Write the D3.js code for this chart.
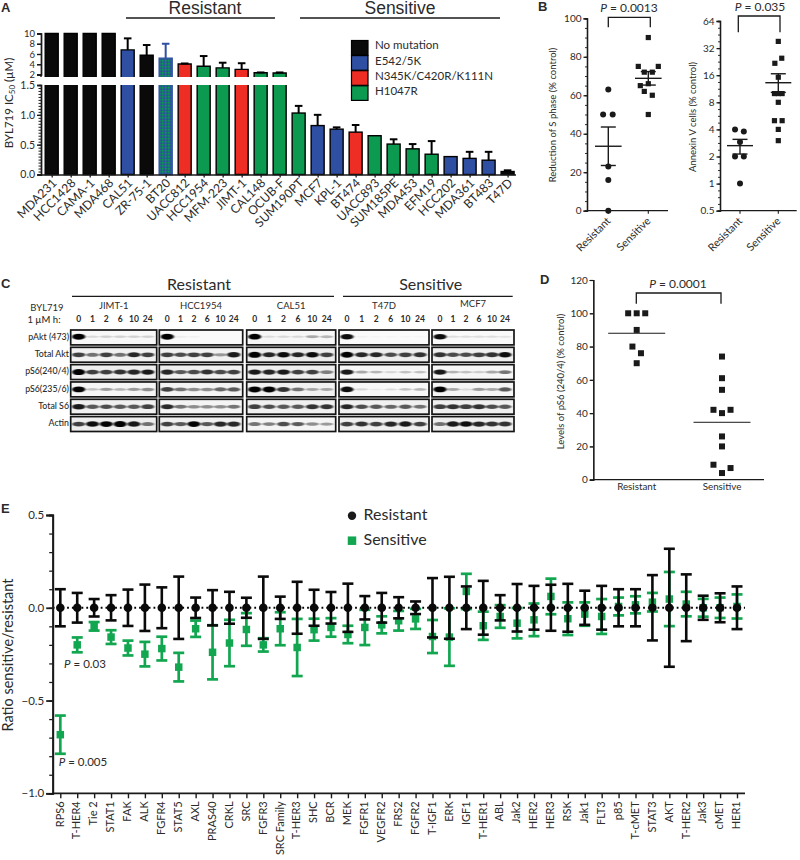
<!DOCTYPE html>
<html><head><meta charset="utf-8">
<script src="https://cdn.jsdelivr.net/npm/d3@7"></script>
<style>html,body{margin:0;background:#fff}svg{display:block}text{font-family:Lato,"Open Sans",sans-serif;fill:#2b2b2b}</style>
</head><body><svg id="c" width="800" height="860"></svg>
<script>
// ---------- Panel A data ----------
const aLines = ["MDA231","HCC1428","CAMA-1","MDA468","CAL51","ZR-75-1","BT20","UACC812","HCC1954","MFM-223","JIMT-1","CAL148","OCUB-F","SUM190PT","MCF7","KPL-1","BT474","UACC893","SUM185PE","MDA453","EFM19","HCC202","MDA361","BT483","T47D"];
const aValues = [10,10,10,10,6.8,5.75,5.2,4.05,3.6,3.3,3.0,2.35,2.3,1.03,0.82,0.76,0.71,0.65,0.51,0.43,0.34,0.30,0.27,0.24,0.05];
const aErrTop = [10,10,10,10,9.05,7.75,8.0,4.15,5.6,4.3,4.2,2.4,2.4,1.15,1.0,0.79,0.83,0.65,0.59,0.51,0.56,0.30,0.38,0.38,0.07];
const aMut = ["none","none","none","none","e542","none","mixed","n345","h1047","h1047","n345","h1047","h1047","h1047","e542","e542","n345","h1047","h1047","h1047","h1047","e542","e542","e542","none"];
const aLegend = [["none","No mutation"],["e542","E542/5K"],["n345","N345K/C420R/K111N"],["h1047","H1047R"]];
const aTicksLow = [0,0.5,1,1.5], aTicksUp = [2,4,6,8,10];

// ---------- Panel B data ----------
const bCats = ["Resistant","Sensitive"];
const b1ResV = [63,50,50,23,16,0], b1ResX = [0,-0.13,0.11,0,0,0];
const b1SenV = [90,75,75,72,72,66,65,62,60,50], b1SenX = [1,0.75,1.25,0.9,1.1,1,0.8,0.9,1.1,1];
const b1Stats = [[33.5,23.5,43.5],[68.8,65.3,72.3]];
const b2ResV = [4,3.8,2.9,2,2,1], b2ResX = [-0.13,0.1,0,-0.13,0.1,0];
const b2SenV = [38,24.7,21.7,15.2,10,10,10,8,5,5,4,3], b2SenX = [1,1.09,0.91,1,0.9,1.1,1,1,0.9,1.1,1,1];
const b2Stats = [[2.64,2.13,3.1],[13.2,10.3,16.6]];
const b1Ticks = [0,20,40,60,80,100], b2Ticks = [0.5,1,2,4,8,16,32,64];

// ---------- Panel C data ----------
const cRows = ["pAkt (473)","Total Akt","pS6(240/4)","pS6(235/6)","Total S6","Actin"];
const cLanes = ["0","1","2","6","10","24"];
const cLines = ["JIMT-1","HCC1954","CAL51","T47D","MCF7"];
const cJimt = [[1,.12,.15,.15,.15,.15],[.7,.5,.7,.5,.8,.7],[1,.7,.7,.75,.8,.85],[.95,.2,.35,.25,.35,.4],[.85,.6,.65,.6,.6,.7],[.7,.9,.95,1,.85,.5]];
const cHcc  = [[1,.05,.03,0,0,0],[.7,.65,.7,.7,.35,.85],[.8,.6,.65,.75,.65,.7],[.7,.5,.4,.4,.55,.6],[.8,.5,.4,.4,.4,.5],[.7,.6,.95,.6,.8,.8]];
const cCal  = [[.95,.1,.12,.12,.3,.25],[1,.8,.9,.8,.9,.7],[.85,.8,.85,.7,.7,.45],[1,1,.75,.5,.3,.3],[.7,.65,.6,.6,.75,.75],[.5,.45,.65,.6,.4,.35]];
const cT47  = [[.9,.03,.02,.02,.02,.02],[.95,.8,.8,.65,.7,.75],[.85,.3,.25,.12,.2,.2],[.9,.12,.05,.1,.2,.25],[.8,.65,.6,.55,.6,.5],[.7,.75,.7,.8,.85,.7]];
const cMcf  = [[.9,.1,.1,.1,.1,.08],[.75,.65,.65,.7,.75,.9],[.85,.25,.2,.15,.3,.5],[.95,.3,.1,.35,.3,.6],[.7,.75,.7,.75,.65,.6],[.5,.85,.9,.8,.75,.75]];
const cBlots = [cJimt,cHcc,cCal,cT47,cMcf];

// ---------- Panel D data ----------
const dResV = [100,100,100,90,80,76,70], dResX = [-0.1,0,0.1,0,-0.05,0.05,0];
const dSenV = [74,61,54,42,40,42,26,20,9,4,7], dSenX = [1,1,1,0.9,1,1.1,1,1,0.9,1,1.1];
const dMeans = [88,34.5];
const dTicks = [0,20,40,60,80,100,120];

// ---------- Panel E data ----------
const eCats = ["RPS6","T-HER4","Tie 2","STAT1","FAK","ALK","FGFR4","STAT5","AXL","PRAS40","CRKL","SRC","FGFR3","SRC Family","T-HER3","SHC","BCR","MEK","FGFR1","VEGFR2","FRS2","FGFR2","T-IGF1","ERK","IGF1","T-HER1","ABL","Jak2","HER2","HER3","RSK","Jak1","FLT3","p85","T-cMET","STAT3","AKT","T-HER2","Jak3","cMET","HER1"];
const eResErr = [.1,.08,.047,.068,.098,.125,.11,.168,.055,.095,.086,.054,.168,.06,.14,.097,.085,.13,.063,.08,.057,.034,.16,.167,.115,.145,.068,.128,.118,.124,.129,.092,.118,.1,.1,.176,.318,.18,.065,.078,.115];
const eSenMean = [-.684,-.2,-.1,-.158,-.217,-.25,-.22,-.32,-.113,-.24,-.19,-.117,-.2,-.113,-.214,-.118,-.106,-.144,-.106,-.092,-.07,-.06,-.155,-.158,.088,-.097,-.047,-.083,-.065,.061,-.059,-.034,-.047,.007,.016,.03,.047,.02,0,0,.007];
const eSenErr = [.103,.04,.023,.037,.04,.066,.064,.077,.044,.146,.125,.088,.036,.089,.154,.059,.05,.047,.095,.046,.053,.054,.089,.155,.095,.076,.061,.082,.088,.096,.088,.063,.094,.048,.046,.05,.146,.066,.048,.055,.065];
const eTicks = [0.5,0,-0.5,-1];

// ---------- Styles ----------
const colors = {none:"#0a0a0a",e542:"#2f4fa3",n345:"#ee2e24",h1047:"#0b9a50"};
const green = "#12a650", ink = "#1a1a1a";
const svg = d3.select("#c");
const defs = svg.append("defs");
const pat = defs.append("pattern").attr("id","chk").attr("width",3).attr("height",3).attr("patternUnits","userSpaceOnUse");
pat.append("rect").attr("width",3).attr("height",3).attr("fill","#1f6a80");
pat.append("rect").attr("width",1.5).attr("height",1.5).attr("fill","#0b9a50");
pat.append("rect").attr("x",1.5).attr("y",1.5).attr("width",1.5).attr("height",1.5).attr("fill","#2f4fa3");
defs.append("filter").attr("id","bl").attr("x","-30%").attr("y","-100%").attr("width","160%").attr("height","300%")
  .append("feGaussianBlur").attr("stdDeviation","0.9 0.65");

function txt(g,x,y,s,size,opts={}){
  const t=g.append("text").attr("x",x).attr("y",y).attr("font-size",size)
    .attr("text-anchor",opts.anchor||"middle").attr("dominant-baseline","middle");
  if(opts.weight)t.attr("font-weight",opts.weight);
  if(opts.family)t.style("font-family",opts.family);
  if(opts.rotate!=null)t.attr("transform",`rotate(${opts.rotate} ${x} ${y})`);
  t.text(s); return t;
}
function pText(g,x,y,val,size){
  const t=g.append("text").attr("x",x).attr("y",y).attr("font-size",size)
    .attr("text-anchor","middle").attr("dominant-baseline","middle");
  t.append("tspan").attr("font-style","italic").text("P");
  t.append("tspan").text(" = "+val);
}
function yAxis(x,scale,majors,minors,fmt,fs,majorLen,minorLen,sw,col){
  const g=svg.append("g").attr("transform",`translate(${x},0)`);
  g.call(d3.axisLeft(scale).tickValues(minors).tickSize(minorLen).tickFormat(""));
  const m=svg.append("g").attr("transform",`translate(${x},0)`);
  m.call(d3.axisLeft(scale).tickValues(majors).tickSize(majorLen).tickPadding(2).tickFormat(fmt));
  [g,m].forEach(a=>{a.selectAll("path,line").attr("stroke",col||ink).attr("stroke-width",sw);
    a.selectAll("text").attr("font-size",fs).style("font-family","Lato,sans-serif").attr("fill","#2b2b2b");});
  g.selectAll("line").attr("stroke-width",sw*0.7);
  return m;
}
function bracket(x0,x1,top,bot){
  svg.append("path").attr("d",d3.line()([[x0,bot],[x0,top],[x1,top],[x1,bot]]))
   .attr("fill","none").attr("stroke",ink).attr("stroke-width",1.3);
}
const sq = s=>d3.symbol(d3.symbolSquare,s*s)();
const ci = r=>d3.symbol(d3.symbolCircle,Math.PI*r*r)();
function points(vals,xs,xScale,yScale,path,fill){
  svg.append("g").selectAll("path").data(vals).join("path").attr("d",path)
   .attr("fill",fill||ink).attr("transform",(d,i)=>`translate(${xScale(xs[i])},${yScale(d)})`);
}
function meanErr(xs,stats,xScale,yScale,halfMean,halfCap,sw){
  stats.forEach((s,i)=>{
    const x=xScale(i),g=svg.append("g").attr("stroke",ink).attr("stroke-width",sw);
    g.append("line").attr("x1",x-halfMean).attr("x2",x+halfMean).attr("y1",yScale(s[0])).attr("y2",yScale(s[0]));
    g.append("line").attr("x1",x).attr("x2",x).attr("y1",yScale(s[1])).attr("y2",yScale(s[2]));
    [s[1],s[2]].forEach(v=>g.append("line").attr("x1",x-halfCap).attr("x2",x+halfCap).attr("y1",yScale(v)).attr("y2",yScale(v)));
  });
}
// panel letters
[["A",1,9],["B",538,8],["C",1,285],["D",540,281],["E",1,510]].forEach(d=>
  txt(svg,d[1],d[2],d[0],13,{anchor:"start",weight:700,family:"'Liberation Sans',sans-serif"}));

// ---------- Panel A ----------
const ax = d3.scalePoint().domain(aLines).range([51.7,507.6]);
const yLow = d3.scaleLinear().domain([0,1.5]).range([174.5,85]);
const yUp = d3.scaleLinear().domain([2,10]).range([74.5,33.5]);
const upBase = 77, barW = 13;
aLines.forEach((n,i)=>{
  const v=aValues[i],m=aMut[i],x=ax(n)-barW/2,fill=m==="mixed"?"url(#chk)":colors[m],stroke=m==="mixed"?colors.e542:"#000";
  const g=svg.append("g").attr("fill",fill).attr("stroke",stroke).attr("stroke-width",1.4);
  if(v>1.5){
    g.append("path").attr("d",`M${x},85V${yLow(0)}H${x+barW}V85`);
    g.append("path").attr("d",`M${x},${upBase}V${yUp(v)}H${x+barW}V${upBase}`);
  } else g.append("rect").attr("x",x).attr("width",barW).attr("y",yLow(v)).attr("height",yLow(0)-yLow(v));
  const t=aErrTop[i];
  if(t>v){
    const s=v>1.5?yUp:yLow, e=svg.append("g").attr("stroke",stroke).attr("stroke-width",2);
    e.append("line").attr("x1",ax(n)).attr("x2",ax(n)).attr("y1",s(v)).attr("y2",s(t));
    e.append("line").attr("x1",ax(n)-3.8).attr("x2",ax(n)+3.8).attr("y1",s(t)).attr("y2",s(t));
  }
});
yAxis(41,yLow,aTicksLow,d3.range(0,1.5001,0.05),d3.format(".1f"),10.5,4,2.5,1.4);
yAxis(41,yUp,aTicksUp,aTicksUp,d3.format("d"),9.5,4,4,1.4);
svg.append("line").attr("x1",41).attr("x2",41).attr("y1",74).attr("y2",77).attr("stroke",ink).attr("stroke-width",1.4);
const axA=svg.append("g").attr("transform","translate(0,174.5)");
axA.call(d3.axisBottom(ax).tickSize(3).tickPadding(3));
axA.select("path").attr("d","M41,0.5H516").attr("stroke",ink).attr("stroke-width",1.5);
axA.selectAll("line").attr("stroke",ink).attr("stroke-width",1.3);
axA.selectAll("text").attr("font-size",12.2).style("font-family","Lato,sans-serif").attr("fill","#2b2b2b")
  .attr("text-anchor","end").attr("dominant-baseline","middle").attr("dy",0).attr("y",0)
  .attr("transform","translate(3,7) rotate(-45)");
const ylA=txt(svg,10,103,"",11.5,{rotate:-90});
ylA.append("tspan").text("BYL719 IC");
ylA.append("tspan").attr("font-size",8).attr("dy",2.5).text("50");
ylA.append("tspan").attr("dy",-2.5).text(" (µM)");
[["Resistant",205,126,275],["Sensitive",400,300,500]].forEach(d=>{
  txt(svg,d[1],9.5,d[0],17.5,{family:"'Liberation Sans',sans-serif"});
  svg.append("line").attr("x1",d[2]).attr("x2",d[3]).attr("y1",18).attr("y2",18).attr("stroke",ink).attr("stroke-width",1.3);
});
aLegend.forEach((d,i)=>{
  svg.append("rect").attr("x",351.5).attr("y",40.5+i*15.1).attr("width",16.5).attr("height",14.6)
    .attr("fill",colors[d[0]]).attr("stroke","#000").attr("stroke-width",1.2);
  txt(svg,375,46.5+i*15.1,d[1],11.5,{anchor:"start"});
});

// ---------- Panel B (left) ----------
const b1x = d3.scaleLinear().domain([0,1]).range([608.3,648.3]);
const b1y = d3.scaleLinear().domain([0,100]).range([210.7,18.3]);
points(b1ResV,b1ResX,b1x,b1y,ci(3));
points(b1SenV,b1SenX,b1x,b1y,sq(5.2));
meanErr(0,b1Stats,b1x,b1y,13.3,7.5,1.4);
yAxis(587,b1y,b1Ticks,d3.range(0,100.1,5),d3.format("d"),10,3.5,2,1.3);
function catAxis(x0,x1,xScale,yPos){
  const g=svg.append("g").attr("transform",`translate(0,${yPos})`);
  g.append("line").attr("x1",x0).attr("x2",x1).attr("stroke",ink).attr("stroke-width",1.3);
  bCats.forEach((c,i)=>{
    g.append("line").attr("x1",xScale(i)).attr("x2",xScale(i)).attr("y2",3).attr("stroke",ink).attr("stroke-width",1.1);
    txt(g,xScale(i)+1,9,c,10.8,{anchor:"end",rotate:-45});
  });
}
catAxis(587,668,b1x,210.7);
bracket(608.3,650.3,17.3,27.3);
pText(svg,629,9,"0.0013",12);
txt(svg,554,115,"Reduction of S phase  (% control)",9.5,{rotate:-90});

// ---------- Panel B (right) ----------
const b2x = d3.scaleLinear().domain([0,1]).range([740,778.3]);
const b2y = d3.scaleLog().base(2).domain([0.5,64]).range([210.7,21]);
points(b2ResV,b2ResX,b2x,b2y,ci(3));
points(b2SenV,b2SenX,b2x,b2y,sq(5.2));
meanErr(0,b2Stats,b2x,b2y,13,7.5,1.4);
const b2Minor = d3.range(-1,6.01,0.25).map(e=>Math.pow(2,e));
yAxis(720,b2y,b2Ticks,b2Minor,d=>d3.format("")(d),10,3.5,2,1.3);
catAxis(720,796.7,b2x,210.7);
bracket(738.3,780,16,32.3);
pText(svg,760,8,"0.035",12);
txt(svg,694,117,"Annexin V cells (% control)",9.5,{rotate:-90});

// ---------- Panel C ----------
const blotX = [[70.7,156.7],[159.3,242.7],[246.7,335.7],[339,429],[432,514]];
const rowY = d3.scaleBand().domain(cRows).range([330,431.5]).paddingInner(0.14);
txt(svg,199,285.5,"Resistant",16); txt(svg,430.7,285.5,"Sensitive",16);
[[72,334],[343,512.7]].forEach(d=>svg.append("line").attr("x1",d[0]).attr("x2",d[1]).attr("y1",296.3).attr("y2",296.3).attr("stroke",ink).attr("stroke-width",1.3));
txt(svg,47,309,"BYL719",9.5); txt(svg,44,321,"1 µM h:",9.5,{weight:500});
cRows.forEach(r=>txt(svg,69,rowY(r)+rowY.bandwidth()/2,r,8.8,{anchor:"end",weight:500}));
cLines.forEach((name,b)=>{
  const [x0,x1]=blotX[b],lane=d3.scalePoint().domain(cLanes).range([x0+8,x1-9]);
  txt(svg,(x0+x1)/2,b==4?304.5:306.7,name,9.5);
  cLanes.forEach(l=>txt(svg,lane(l),320,l,8.5,{weight:700}));
  cRows.forEach((r,ri)=>{
    const y=rowY(r),h=rowY.bandwidth(),cid=`cl${b}_${ri}`;
    defs.append("clipPath").attr("id",cid).append("rect").attr("x",x0).attr("y",y).attr("width",x1-x0).attr("height",h);
    const g=svg.append("g").attr("clip-path",`url(#${cid})`);
    const bg=d3.mean(cBlots[b][ri]);
    g.append("rect").attr("x",x0).attr("y",y).attr("width",x1-x0).attr("height",h).attr("fill",d3.interpolateGreys(0.02+bg*0.14));
    cBlots[b][ri].forEach((v,li)=>{
      const lx=lane(cLanes[li]);
      g.append("ellipse").attr("cx",lx).attr("cy",y+h*(ri==0?0.45:0.5)).attr("rx",6.6).attr("ry",0.9+2.1*v)
       .attr("fill","#050505").attr("opacity",Math.min(1,v*1.05)).attr("filter","url(#bl)");
    });
    svg.append("rect").attr("x",x0).attr("y",y).attr("width",x1-x0).attr("height",h).attr("fill","none").attr("stroke","#141414").attr("stroke-width",1.7);
  });
});

// ---------- Panel D ----------
const dx = d3.scaleLinear().domain([0,1]).range([636.7,722]);
const dy = d3.scaleLinear().domain([0,120]).range([479.7,280]);
points(dResV,dResX,dx,dy,sq(6));
points(dSenV,dSenX,dx,dy,sq(6));
dMeans.forEach((m,i)=>svg.append("line").attr("x1",dx(i)-28.5).attr("x2",dx(i)+28.5).attr("y1",dy(m)).attr("y2",dy(m)).attr("stroke",ink).attr("stroke-width",1));
yAxis(593.3,dy,dTicks,dTicks,d3.format("d"),10,3.5,3.5,1.2);
svg.append("line").attr("x1",593.3).attr("x2",764).attr("y1",479.7).attr("y2",479.7).attr("stroke",ink).attr("stroke-width",1.2);
bCats.forEach((c,i)=>txt(svg,dx(i),487.7,c,9.8));
bracket(636.3,721,293,303.7);
pText(svg,678,285,"0.0001",12);
txt(svg,561.5,381.5,"Levels of pS6 (240/4)  (% control)",9.5,{rotate:-90});

// ---------- Panel E ----------
const ex = d3.scalePoint().domain(eCats).range([60.3,737]);
const ey = d3.scaleLinear().domain([-1,0.5]).range([793.3,515]);
const eCap = 5.5;
function ebars(vals,errs,color,sw,path){
  const g=svg.append("g").attr("stroke",color).attr("stroke-width",sw).attr("fill","none");
  eCats.forEach((c,i)=>{
    const x=ex(c),v=vals(i),e=errs[i];
    g.append("line").attr("x1",x).attr("x2",x).attr("y1",ey(v-e)).attr("y2",ey(v+e));
    [v-e,v+e].forEach(k=>g.append("line").attr("x1",x-eCap).attr("x2",x+eCap).attr("y1",ey(k)).attr("y2",ey(k)));
  });
  svg.append("g").selectAll("path").data(eCats).join("path").attr("d",path).attr("fill",color)
   .attr("transform",(c,i)=>`translate(${ex(c)},${ey(vals(i))})`);
}
ebars(i=>eSenMean[i],eSenErr,green,2.7,sq(7.5));
svg.append("line").attr("x1",52.7).attr("x2",745).attr("y1",ey(0)).attr("y2",ey(0)).attr("stroke","#000").attr("stroke-width",1.8).attr("stroke-dasharray","1.8 3");
ebars(()=>0,eResErr,"#0a0a0a",2.6,ci(4.3));
yAxis(52.7,ey,eTicks,d3.range(-1,0.5001,0.1),d=>d<0?"−"+d3.format(".1f")(-d):d3.format(".1f")(d),11.5,6.5,3.5,1.8);
const axE=svg.append("g").attr("transform","translate(0,793.3)");
axE.call(d3.axisBottom(ex).tickSize(5).tickPadding(3));
axE.select("path").attr("d","M52.7,0H745").attr("stroke",ink).attr("stroke-width",1.8);
axE.selectAll("line").attr("stroke",ink).attr("stroke-width",1.4);
axE.selectAll("text").attr("font-size",11).style("font-family","Lato,sans-serif").attr("fill","#2b2b2b")
  .attr("text-anchor","end").attr("dominant-baseline","middle").attr("dy",0).attr("y",0)
  .attr("transform","translate(0,8) rotate(-90)");
txt(svg,9,655,"Ratio sensitive/resistant",14.5,{rotate:-90});
pText(svg,85,665,"0.03",11.5);
pText(svg,83,762.7,"0.005",11.5);
svg.append("path").attr("d",ci(4.2)).attr("fill",ink).attr("transform","translate(352,515.7)");
svg.append("path").attr("d",sq(8.5)).attr("fill",green).attr("transform","translate(352,540.7)");
txt(svg,363.5,515.5,"Resistant",16,{anchor:"start"});
txt(svg,363.5,540.5,"Sensitive",16,{anchor:"start"});
</script></body></html>
